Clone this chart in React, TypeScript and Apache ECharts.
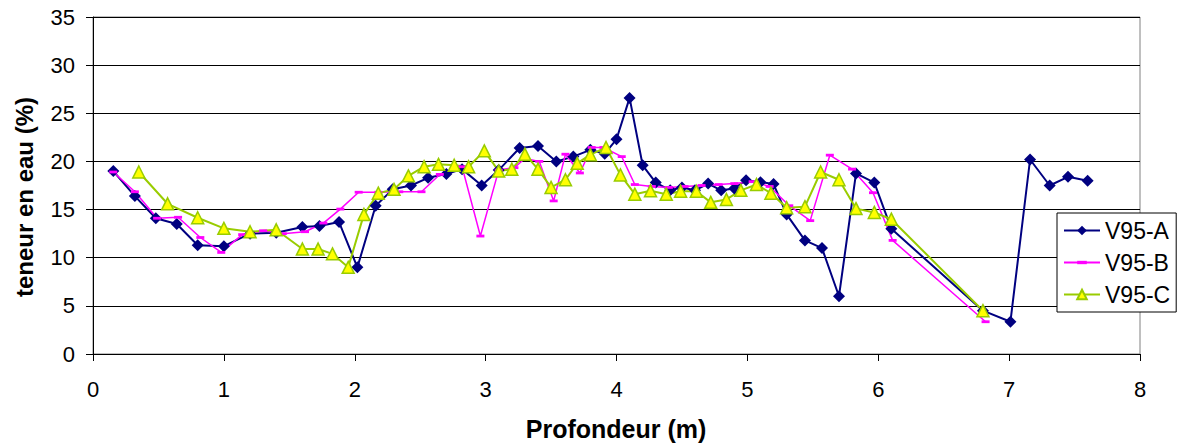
import React, { useEffect, useRef } from "react";
import * as echarts from "echarts";

// Depth (m) and water content (%) for each borehole
const depthA = [0.155, 0.32, 0.48, 0.64, 0.8, 1.0, 1.2, 1.4, 1.6, 1.73, 1.88, 2.02, 2.16, 2.29, 2.43, 2.56, 2.7, 2.82, 2.97, 3.1, 3.26, 3.4, 3.54, 3.67, 3.8, 3.91, 4.0, 4.1, 4.2, 4.3, 4.41, 4.5, 4.6, 4.7, 4.8, 4.9, 4.99, 5.1, 5.2, 5.3, 5.44, 5.57, 5.7, 5.83, 5.97, 6.1, 6.8, 7.01, 7.16, 7.31, 7.45, 7.6];
const waterA = [19.0, 16.4, 14.1, 13.5, 11.3, 11.2, 12.5, 12.6, 13.2, 13.3, 13.7, 9.0, 15.4, 17.1, 17.5, 18.3, 18.7, 19.2, 17.5, 19.1, 21.4, 21.6, 20.0, 20.5, 21.2, 20.8, 22.3, 26.6, 19.6, 17.8, 17.0, 17.3, 17.0, 17.7, 17.0, 17.2, 18.05, 17.85, 17.65, 14.5, 11.8, 11.0, 6.0, 18.75, 17.8, 13.0, 4.5, 3.35, 20.2, 17.5, 18.4, 18.0];

const depthB = [0.155, 0.32, 0.49, 0.65, 0.82, 0.98, 1.14, 1.3, 1.45, 1.62, 1.76, 1.89, 2.03, 2.18, 2.34, 2.51, 2.65, 2.82, 2.96, 3.1, 3.22, 3.3, 3.41, 3.52, 3.61, 3.72, 3.81, 3.9, 4.04, 4.14, 4.27, 4.4, 4.52, 4.65, 4.78, 4.9, 5.04, 5.17, 5.32, 5.48, 5.63, 5.8, 5.96, 6.11, 6.82];
const waterB = [18.9, 16.85, 14.1, 14.2, 12.1, 10.55, 12.4, 12.8, 12.5, 12.7, 13.6, 15.05, 16.8, 16.8, 16.85, 16.85, 18.65, 19.45, 12.25, 19.1, 19.35, 20.3, 20.0, 15.9, 20.75, 18.8, 21.45, 21.45, 20.5, 17.6, 17.4, 17.3, 17.4, 17.5, 17.6, 17.7, 17.9, 17.4, 15.4, 13.85, 20.65, 19.2, 16.75, 11.8, 3.35];

const depthC = [0.35, 0.57, 0.8, 1.0, 1.2, 1.4, 1.6, 1.72, 1.83, 1.95, 2.07, 2.18, 2.3, 2.41, 2.53, 2.64, 2.76, 2.87, 2.99, 3.1, 3.2, 3.3, 3.4, 3.5, 3.61, 3.7, 3.8, 3.92, 4.03, 4.14, 4.26, 4.38, 4.49, 4.61, 4.72, 4.84, 4.95, 5.07, 5.18, 5.3, 5.44, 5.56, 5.7, 5.83, 5.97, 6.1, 6.8];
const waterC = [18.9, 15.6, 14.15, 13.05, 12.7, 12.9, 10.9, 10.9, 10.4, 9.0, 14.5, 16.7, 17.1, 18.5, 19.45, 19.7, 19.6, 19.45, 21.1, 19.0, 19.2, 20.75, 19.2, 17.3, 18.1, 19.8, 20.7, 21.45, 18.6, 16.6, 16.95, 16.6, 16.9, 16.9, 15.75, 16.05, 17.0, 17.6, 16.7, 15.2, 15.3, 18.9, 18.1, 15.1, 14.7, 14.0, 4.5];

const seriesNames = ["V95-A", "V95-B", "V95-C"];
const xTitle = "Profondeur (m)";
const yTitle = "teneur en eau (%)";

const FONT = "'Liberation Sans', Arial, sans-serif";

// Short horizontal dash (inside a square box) used as the V95-B marker,
// so that it keeps its shape in the legend too
const DASH = "path://M0 0M8 8M0 2.6H8V5.4H0Z";

const pairs = (xs: number[], ys: number[]) => xs.map((x, i) => [x, ys[i]]);

export default function App() {
  const ref = useRef<HTMLDivElement>(null);

  useEffect(() => {
    if (!ref.current) return;
    const chart = echarts.init(ref.current, null, { renderer: "svg" });
    chart.setOption({
      animation: false,
      backgroundColor: "#ffffff",
      textStyle: { fontFamily: FONT },
      grid: {
        left: 93,
        top: 17,
        width: 1047,
        height: 337,
        show: true,
        borderColor: "#808080",
        borderWidth: 1,
        backgroundColor: "transparent",
      },
      xAxis: {
        type: "value",
        min: 0,
        max: 8,
        interval: 1,
        axisLine: { show: true, onZero: false, lineStyle: { color: "#000", width: 1 } },
        axisTick: { show: true, inside: false, length: 7, lineStyle: { color: "#000" } },
        axisLabel: { color: "#000", fontSize: 22, fontFamily: FONT, margin: 24 },
        splitLine: { show: false },
      },
      yAxis: {
        type: "value",
        min: 0,
        max: 35,
        interval: 5,
        axisLine: { show: true, onZero: false, lineStyle: { color: "#000", width: 1 } },
        axisTick: { show: true, inside: false, length: 7, lineStyle: { color: "#000" } },
        axisLabel: { color: "#000", fontSize: 22, fontFamily: FONT, margin: 18 },
        splitLine: { show: true, lineStyle: { color: "#000", width: 1 } },
      },
      legend: {
        orient: "vertical",
        left: 1057,
        top: 213,
        data: seriesNames,
        backgroundColor: "#ffffff",
        borderColor: "#000",
        borderWidth: 1,
        borderRadius: 0,
        padding: [6, 6, 6, 6],
        itemWidth: 36,
        itemHeight: 12,
        itemGap: 9,
        textStyle: { color: "#000", fontSize: 23, fontFamily: FONT, padding: [0, 0, 0, 0] },
      },
      graphic: [
        {
          type: "text",
          x: 616,
          y: 429,
          style: {
            text: xTitle,
            font: `bold 25px ${FONT}`,
            fill: "#000",
            textAlign: "center",
            textVerticalAlign: "middle",
          },
        },
        {
          type: "text",
          x: 24,
          y: 197,
          rotation: Math.PI / 2,
          style: {
            text: yTitle,
            font: `bold 24px ${FONT}`,
            fill: "#000",
            textAlign: "center",
            textVerticalAlign: "middle",
          },
        },
      ],
      series: [
        {
          name: seriesNames[0],
          type: "line",
          data: pairs(depthA, waterA),
          symbol: "diamond",
          symbolSize: 12,
          showAllSymbol: true,
          lineStyle: { color: "#000080", width: 2 },
          itemStyle: { color: "#000080" },
        },
        {
          name: seriesNames[1],
          type: "line",
          data: pairs(depthB, waterB),
          symbol: DASH,
          symbolSize: 8,
          showAllSymbol: true,
          lineStyle: { color: "#FF00FF", width: 1.5 },
          itemStyle: { color: "#FF00FF" },
        },
        {
          name: seriesNames[2],
          type: "line",
          data: pairs(depthC, waterC),
          symbol: "triangle",
          symbolSize: 12,
          showAllSymbol: true,
          lineStyle: { color: "#99CC00", width: 2 },
          itemStyle: { color: "#FFFF00", borderColor: "#99CC00", borderWidth: 1.5 },
        },
      ],
    });
    return () => chart.dispose();
  }, []);

  return (
    <div
      ref={ref}
      style={{ position: "fixed", left: 0, top: 0, width: 1178, height: 448, background: "#fff" }}
    />
  );
}
